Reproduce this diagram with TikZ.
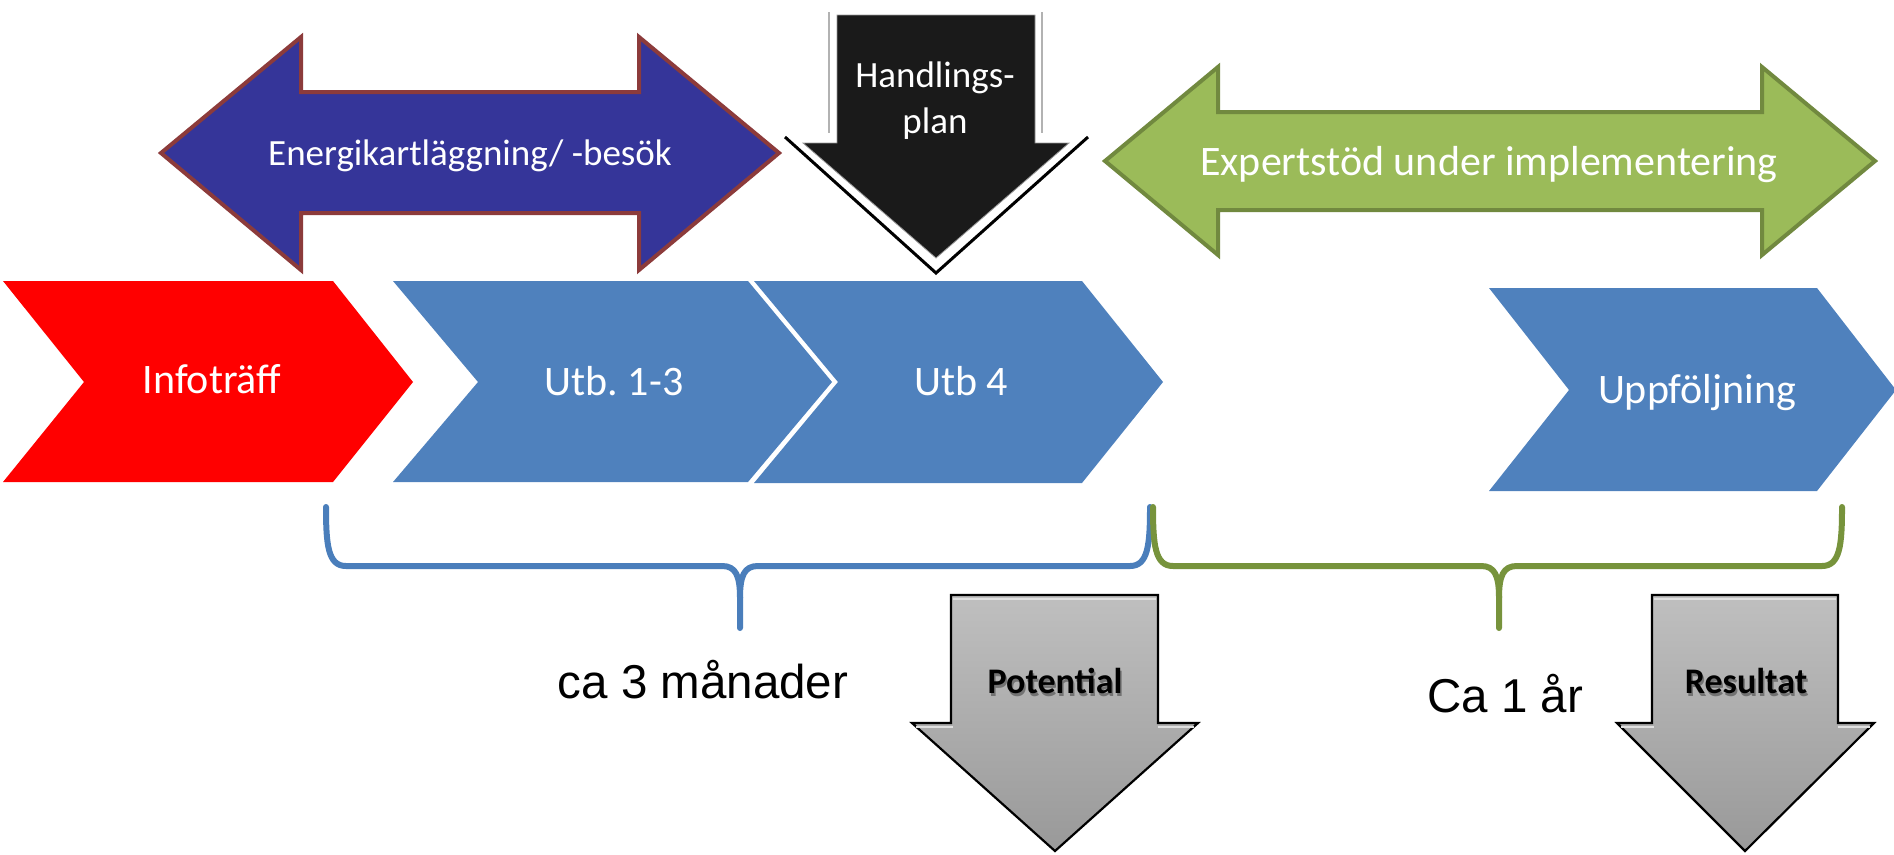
\documentclass[tikz,border=0pt]{standalone}
\usepackage{fontspec}
\setmainfont{Carlito}
\newfontfamily\arialfont{Liberation Sans}
\definecolor{chevblue}{HTML}{4F81BD}
\definecolor{navy}{HTML}{353599}
\definecolor{navyedge}{HTML}{8C3B3B}
\definecolor{leaf}{HTML}{9BBB59}
\definecolor{leafedge}{HTML}{71893F}
\definecolor{braceblue}{HTML}{4A7EBB}
\definecolor{bracegreen}{HTML}{77933C}
\definecolor{ink}{HTML}{1A1A1A}
\definecolor{chevred}{HTML}{FF0000}
\frenchspacing
\begin{document}
\begin{tikzpicture}[x=1pt,y=-1pt,
  chevron/.style={fill=chevblue,draw=none},
  whitelbl/.style={text=white,anchor=base,inner sep=0pt,font=\fontsize{42}{50}\selectfont},
  arrowlbl/.style={text=white,anchor=base,inner sep=0pt,font=\fontsize{37}{44}\selectfont},
  boldlbl/.style={text=black,anchor=base,inner sep=0pt,font=\bfseries\fontsize{36}{43}\selectfont},
  shadowlbl/.style={text=black,opacity=0.35,anchor=base,inner sep=0pt,font=\bfseries\fontsize{36}{43}\selectfont},
  durlbl/.style={text=black,anchor=base,inner sep=0pt,font=\arialfont\fontsize{47.5}{56}\selectfont},
  bracestyle/.style={line width=6pt,line cap=round,line join=round},
  greyarrow/.style={top color=black!25,bottom color=black!40,draw=black,line width=2.2pt,line join=miter},
  bevel/.style={draw=white!88!black,line width=2.5pt}
]
\useasboundingbox (0,0) rectangle (1894,854);

% ---------- top double arrows ----------
\draw[fill=navy,draw=navyedge,line width=4pt,line join=miter]
  (161,153) -- (301,37) -- (301,92) -- (639,92) -- (639,37) -- (779,153)
  -- (639,270) -- (639,213) -- (301,213) -- (301,270) -- cycle;
\node[arrowlbl] (energi) at (470,165) {Energikartläggning/ -besök};

\draw[fill=leaf,draw=leafedge,line width=4pt,line join=miter]
  (1105,161) -- (1218,67) -- (1218,112) -- (1762,112) -- (1762,67) -- (1875,161)
  -- (1762,255) -- (1762,210) -- (1218,210) -- (1218,255) -- cycle;
\node[whitelbl] (expert) at (1489,175) {Expertstöd under implementering};

% ---------- Handlingsplan arrow ----------
\draw[black!30,line width=1.2pt] (829,12) -- (829,133);
\draw[black!30,line width=1.2pt] (1042,12) -- (1042,133);
\draw[black,line width=3pt,line join=miter] (785,137) -- (936,273) -- (1088,137);
\draw[fill=ink,draw=black!40,line width=0.8pt]
  (837,15) -- (1035,15) -- (1035,143) -- (1069,143) -- (936,258) -- (803,143) -- (837,143) -- cycle;
\node[arrowlbl] (handl1) at (935,87) {Handlings-};
\node[arrowlbl] (handl2) at (935,133) {plan};

% ---------- process chevrons ----------
\fill[chevred] (3,281) -- (333,281) -- (413,382) -- (333,482) -- (3,482) -- (84,382) -- cycle;
\node[whitelbl] (info) at (212,393) {Infoträff};

\path[chevron] (393,281) -- (748,281) -- (832,382) -- (748,482) -- (393,482) -- (478,382) -- cycle;
\node[whitelbl] (utb13) at (614,395) {Utb.\ 1-3};

\path[chevron] (754,281) -- (1082,281) -- (1163,382) -- (1082,483) -- (754,483) -- (838,382) -- cycle;
\node[whitelbl] (utb4) at (961,395) {Utb 4};

\path[chevron] (1489,288) -- (1817,288) -- (1896,390) -- (1817,491) -- (1489,491) -- (1569,390) -- cycle;
\node[whitelbl] (uppf) at (1697,403) {Uppföljning};

% ---------- braces ----------
\coordinate (bL) at (326,507);
\coordinate (bM) at (740,628);
\coordinate (bR) at (1150,507);
\draw[bracestyle,braceblue]
  (bL) .. controls (326,545) and (328,566) .. (346,566) -- (722,566)
  .. controls (736,566) and (740,576) .. (740,598) -- (bM);
\draw[bracestyle,braceblue]
  (740,598) .. controls (740,576) and (744,566) .. (758,566) -- (1130,566)
  .. controls (1148,566) and (1150,545) .. (bR);

\coordinate (gL) at (1153,507);
\coordinate (gM) at (1499,628);
\coordinate (gR) at (1842,507);
\draw[bracestyle,bracegreen]
  (gL) .. controls (1153,545) and (1155,566) .. (1173,566) -- (1481,566)
  .. controls (1495,566) and (1499,576) .. (1499,598) -- (gM);
\draw[bracestyle,bracegreen]
  (1499,598) .. controls (1499,576) and (1503,566) .. (1517,566) -- (1822,566)
  .. controls (1840,566) and (1842,545) .. (gR);

\node[durlbl] (tre) at (703,698) {ca 3 månader};
\node[durlbl] (ett) at (1505,712) {Ca 1 år};

% ---------- result arrows ----------
\draw[greyarrow]
  (951,595) -- (1158,595) -- (1158,723) -- (1198,723) -- (1055,851) -- (912,723) -- (951,723) -- cycle;
\draw[bevel] (953,599) -- (1156,599);
\draw[bevel] (916,727) -- (953,727);
\draw[bevel] (1158,727) -- (1194,727);
\node[shadowlbl] at (1056.5,696) {Potential};
\node[boldlbl] (pot) at (1055,693) {Potential};

\draw[greyarrow]
  (1652,595) -- (1838,595) -- (1838,723) -- (1874,723) -- (1745,851) -- (1617,723) -- (1652,723) -- cycle;
\draw[bevel] (1654,599) -- (1836,599);
\draw[bevel] (1621,727) -- (1654,727);
\draw[bevel] (1838,727) -- (1870,727);
\node[shadowlbl] at (1747.5,696) {Resultat};
\node[boldlbl] (res) at (1746,693) {Resultat};
\end{tikzpicture}
\end{document}
